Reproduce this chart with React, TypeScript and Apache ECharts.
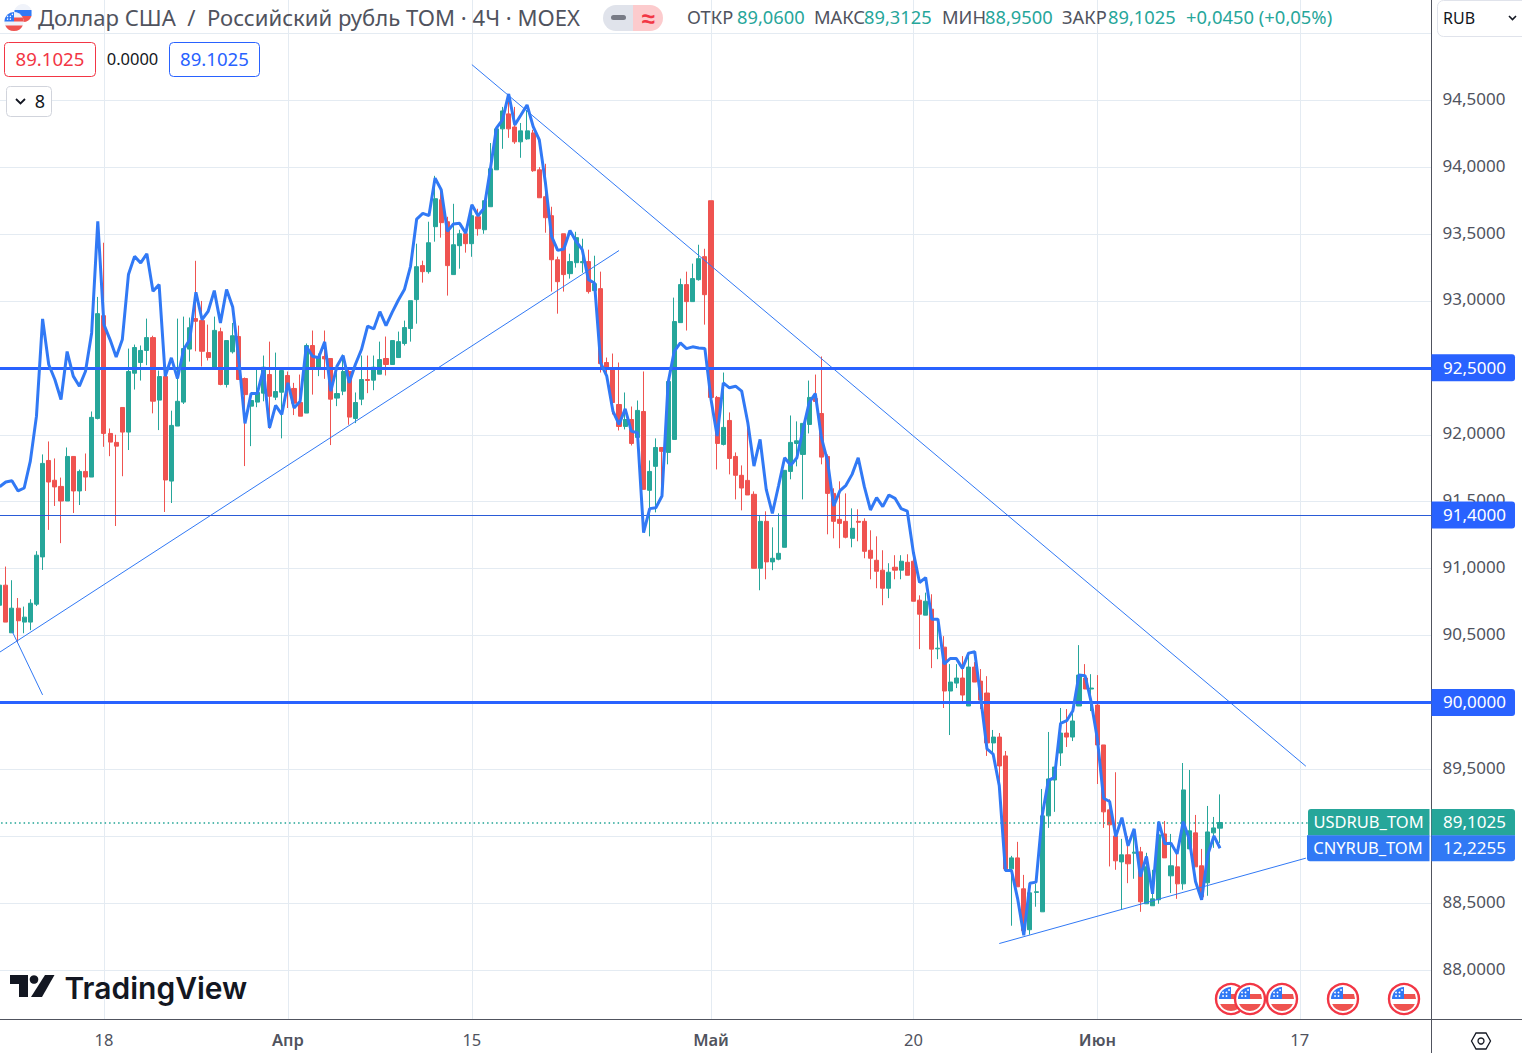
import React, { useEffect, useRef } from "react";
import * as echarts from "echarts";

const opens = [
  90.726,90.876,90.52,90.704,90.60,90.60,90.734,91.087,91.808,91.66,
  91.614,91.505,91.838,91.58,91.726,91.684,92.122,92.89,92.01,91.943,
  92.204,92.02,92.46,92.54,92.63,92.726,92.259,92.435,91.654,92.065,
  92.244,92.64,92.868,92.853,92.614,92.49,92.77,92.376,92.62,92.734,
  92.42,92.214,92.244,92.311,92.45,92.281,92.318,92.443,92.346,92.241,
  92.162,92.667,92.495,92.585,92.57,92.274,92.326,92.473,92.122,92.266,
  92.413,92.408,92.453,92.57,92.525,92.577,92.682,92.794,93.01,93.264,
  93.219,93.555,93.756,93.592,93.197,93.413,93.502,93.428,93.629,93.532,
  93.704,93.98,94.286,94.398,94.30,94.189,94.211,94.256,93.98,93.779,
  93.637,93.308,93.502,93.204,93.286,93.286,93.294,93.077,93.092,92.54,
  92.502,92.226,92.062,92.114,91.98,92.174,91.585,91.764,91.905,91.868,
  91.965,92.838,93.122,92.995,93.159,93.331,93.749,92.279,91.928,92.107,
  91.838,91.697,91.659,91.555,91.002,91.353,91.05,91.07,91.159,91.726,
  91.935,91.853,92.077,92.271,92.159,91.838,91.562,91.368,91.353,91.226,
  91.353,91.353,91.137,91.062,90.988,90.853,91.01,90.988,91.047,91.055,
  90.764,90.652,90.697,90.40,90.413,90.085,90.144,90.182,89.973,90.264,
  90.159,90.07,89.697,89.741,89.6,88.756,88.838,88.607,88.301,88.58,
  88.435,89.152,89.42,89.622,89.771,89.741,89.973,90.182,90.10,89.98,
  89.682,89.197,89.002,88.808,88.861,88.873,88.883,88.495,88.48,88.525,
  89.017,88.704,88.771,88.644,88.905,89.025,88.779,88.652,89.025,89.06,
];
const closes = [
  90.876,90.60,90.704,90.61,90.637,90.741,91.10,91.786,91.647,91.61,
  91.505,91.838,91.58,91.726,91.684,92.13,92.905,92.01,91.945,91.915,
  92.02,92.473,92.652,92.63,92.726,92.251,92.435,91.662,92.07,92.25,
  92.644,92.80,92.848,92.624,92.577,92.78,92.376,92.704,92.74,92.413,
  92.30,92.256,92.316,92.505,92.288,92.323,92.48,92.341,92.236,92.139,
  92.667,92.495,92.585,92.567,92.266,92.308,92.473,92.132,92.241,92.413,
  92.406,92.505,92.562,92.525,92.704,92.696,92.801,93.002,93.256,93.219,
  93.435,93.764,93.585,93.264,93.42,93.502,93.428,93.637,93.54,93.749,
  93.988,94.286,94.42,94.286,94.189,94.271,94.271,93.973,93.771,93.622,
  93.308,93.144,93.197,93.294,93.473,93.294,93.07,93.129,92.532,92.488,
  92.241,92.062,92.114,91.935,92.182,91.592,91.726,91.905,91.876,92.398,
  92.846,93.122,92.995,93.167,93.316,93.047,92.279,91.935,92.055,91.823,
  91.697,91.602,91.55,91.002,91.353,91.05,91.077,91.114,91.734,91.943,
  91.955,92.085,92.279,92.249,91.833,91.562,91.353,91.338,91.234,91.301,
  91.346,91.129,91.077,90.98,90.853,90.973,90.988,91.055,90.95,90.756,
  90.659,90.756,90.398,90.405,90.085,90.152,90.182,90.055,90.264,90.152,
  90.017,89.697,89.741,89.525,88.756,88.838,88.622,88.294,88.577,88.585,
  89.152,89.428,89.517,89.771,89.741,89.861,90.204,90.10,90.107,89.682,
  89.182,89.085,88.816,88.861,88.794,88.881,88.51,88.771,88.532,89.01,
  88.838,88.779,88.644,89.346,89.04,88.771,88.547,89.032,89.062,89.1025,
];
const lows = [
  90.71,90.60,90.52,90.448,90.517,90.54,90.72,90.99,91.289,91.468,
  91.19,91.505,91.415,91.475,91.58,91.684,92.115,91.91,91.84,91.318,
  91.69,91.886,92.338,92.405,92.52,92.16,92.035,91.423,91.49,92.065,
  92.23,92.547,92.624,92.51,92.555,92.49,92.37,92.353,92.607,92.413,
  91.766,91.915,92.206,92.25,92.045,92.259,91.973,92.2,92.147,92.139,
  92.162,92.30,92.438,92.418,91.923,92.214,92.296,92.075,92.087,92.221,
  92.311,92.333,92.453,92.443,92.525,92.577,92.667,92.696,92.83,93.137,
  93.204,93.443,93.473,93.04,93.197,93.241,93.361,93.33,93.488,93.502,
  93.704,93.98,94.137,94.219,94.174,94.07,94.204,93.965,93.771,93.51,
  93.07,92.905,93.07,93.167,93.249,93.211,93.055,93.077,92.465,92.41,
  92.152,92.032,92.04,91.92,91.898,91.592,91.241,91.42,91.614,91.779,
  91.965,92.838,92.779,92.995,93.152,92.823,92.249,91.741,91.92,91.704,
  91.517,91.435,91.55,91.002,90.838,90.92,90.988,91.062,91.159,91.667,
  91.764,91.517,92.01,92.249,91.779,91.256,91.226,91.152,91.226,91.159,
  91.204,91.077,90.92,90.853,90.726,90.779,90.92,90.92,90.95,90.756,
  90.398,90.652,90.256,90.323,89.958,89.756,90.107,89.988,89.973,90.152,
  89.95,89.6,89.627,89.279,88.756,88.331,88.622,88.294,88.264,88.473,
  88.435,89.062,89.182,89.525,89.667,89.711,89.973,90.10,89.935,89.39,
  89.062,88.774,88.749,88.455,88.649,88.682,88.435,88.495,88.48,88.495,
  88.838,88.575,88.532,88.6,88.905,88.771,88.537,88.555,88.913,88.95,
];
const highs = [
  90.89,91.015,90.913,90.78,90.716,90.771,91.13,91.853,91.95,91.823,
  91.68,91.905,91.84,91.74,91.86,92.174,93.03,93.435,92.047,92.0,
  92.204,92.644,92.674,92.667,92.868,92.74,92.48,92.435,92.18,92.868,
  92.883,92.876,93.30,93.0,92.823,92.883,92.80,92.704,92.836,92.816,
  92.428,92.256,92.488,92.592,92.696,92.614,92.5,92.473,92.388,92.45,
  92.682,92.779,92.607,92.779,92.57,92.488,92.6,92.488,92.316,92.592,
  92.592,92.592,92.696,92.734,92.704,92.771,92.853,93.002,93.428,93.301,
  93.592,93.935,93.838,93.629,93.726,93.532,93.502,93.72,93.689,93.749,
  94.18,94.286,94.45,94.54,94.45,94.33,94.428,94.279,94.0,94.025,
  93.704,93.331,93.502,93.353,93.517,93.465,93.383,93.338,93.219,92.577,
  92.607,92.54,92.316,92.211,92.256,92.473,91.808,91.973,91.905,92.398,
  93.025,93.167,93.219,93.279,93.42,93.39,93.749,92.29,92.465,92.167,
  91.868,91.771,92.092,91.577,91.398,91.428,91.308,91.413,91.734,92.144,
  92.1,92.085,92.405,92.45,92.585,91.853,91.6,91.652,91.562,91.45,
  91.443,91.376,91.286,91.241,91.137,91.04,91.1,91.1,91.107,91.159,
  90.80,90.82,90.808,90.62,90.495,90.286,90.286,90.346,90.373,90.301,
  90.249,90.196,89.794,89.771,89.637,88.853,88.958,88.711,88.577,88.644,
  89.353,89.779,89.517,89.958,89.95,89.965,90.428,90.286,90.211,90.204,
  89.682,89.276,89.478,88.98,89.0,89.047,88.92,88.876,88.749,89.112,
  89.114,89.017,88.89,89.547,89.495,89.159,88.905,89.226,89.144,89.3125,
];
const cnyOverlay = [
  91.612,91.647,91.657,91.58,91.602,91.803,92.139,92.866,92.525,92.413,
  92.264,92.622,92.438,92.363,92.475,92.761,93.595,92.823,92.711,92.582,
  92.711,93.197,93.333,93.284,93.353,93.072,93.122,92.438,92.575,92.42,
  92.637,92.711,93.065,92.861,92.923,93.077,92.836,93.085,92.955,92.562,
  92.085,92.308,92.308,92.488,92.052,92.219,92.152,92.388,92.2,92.251,
  92.662,92.587,92.575,92.694,92.326,92.512,92.592,92.388,92.525,92.637,
  92.811,92.791,92.92,92.816,92.915,93.005,93.085,93.259,93.612,93.654,
  93.637,93.918,93.831,93.52,93.575,93.58,93.507,93.719,93.637,93.694,
  93.98,94.291,94.353,94.547,94.316,94.39,94.465,94.303,94.204,93.881,
  93.483,93.378,93.388,93.527,93.445,93.383,93.159,93.134,92.537,92.438,
  92.177,92.077,92.194,92.027,92.015,91.269,91.448,91.455,91.542,92.388,
  92.624,92.687,92.644,92.657,92.649,92.644,92.264,91.99,92.388,92.351,
  92.363,92.326,92.09,91.766,91.965,91.592,91.413,91.617,91.828,91.771,
  91.828,92.04,92.239,92.308,91.978,91.803,91.468,91.58,91.622,91.704,
  91.828,91.612,91.438,91.53,91.463,91.55,91.525,91.448,91.43,91.119,
  90.896,90.933,90.622,90.622,90.286,90.328,90.328,90.254,90.368,90.378,
  90.025,89.652,89.614,89.378,88.744,88.744,88.532,88.259,88.649,88.657,
  89.154,89.415,89.44,89.843,89.863,89.938,90.204,90.199,90.0,89.726,
  89.284,89.259,88.998,89.139,88.928,89.055,88.699,88.848,88.57,89.109,
  88.943,88.948,88.868,89.109,88.973,88.662,88.525,88.861,89.002,88.91,
];

const barCount = 234;
const tickIndexes = [17, 47, 77, 116, 149, 179, 212];
const tickLabels = ["18", "Апр", "15", "Май", "20", "Июн", "17"];
const monthLabels = ["Апр", "Май", "Июн"];
const priceTicks = [88, 88.5, 89, 89.5, 90, 90.5, 91, 91.5, 92, 92.5, 93, 93.5, 94, 94.5, 95];
const labelledTicks = [88, 88.5, 89.5, 90.5, 91, 91.5, 92, 93, 93.5, 94, 94.5];
const levelsThick = [92.5, 90];
const levelThin = 91.4;
const lastClose = 89.1025;
const lastCny = 88.91;

const trendRising = [[0, 90.375], [101, 93.377]];
const trendShort = [[2, 90.535], [7, 90.056]];
const trendFalling = [[77, 94.766], [213, 89.523]];
const trendBottom = [[163, 88.198], [213, 88.836]];

const FONT = '"Noto Sans", sans-serif';
const GREY = "#50535e";
const TEAL = "#26a69a";
const RED = "#ef5350";
const BLUE = "#2962ff";
const LINE = "#3179f5";
const FLAG_X = [1231, 1250, 1282, 1343, 1404];

const fmt = (v: number) => v.toFixed(4).replace(".", ",");

echarts.graphic.registerShape("flagBlue", echarts.graphic.extendPath("M-12,0 A12,12 0 0 1 0,-12 L0,0 Z", {}));
echarts.graphic.registerShape("flagStripe", echarts.graphic.extendPath("M0,-5 L11,-5 L12,0 L0,0 Z", {}));
echarts.graphic.registerShape("flagBottom", echarts.graphic.extendPath("M-10.9,5 A12,12 0 0 0 10.9,5 Z", {}));
echarts.graphic.registerShape("ruBottom", echarts.graphic.extendPath("M-8.5,3 A9,9 0 0 0 8.5,3 Z", {}));

const flag = (cx: number, cy: number, scale: number, ring: boolean, fill = "#ffffff") => {
  const s = scale;
  const kids: any[] = [
    { type: "circle", z: 100, shape: { cx: 0, cy: 0, r: ring ? 15 : 12 },
      style: { fill, stroke: ring ? "#f23645" : "none", lineWidth: ring ? 2.4 : 0 } },
    { type: "flagBlue", z: 100, style: { fill: "#3179f5" } },
    { type: "flagStripe", z: 100, style: { fill: RED } },
    { type: "flagBottom", z: 100, style: { fill: RED } },
  ];
  [[-8, -3], [-4.5, -3], [-8, -6.5], [-4.5, -6.5], [-2, -9]].forEach(([x, y]) =>
    kids.push({ type: "circle", z: 100, shape: { cx: x, cy: y, r: 0.9 }, style: { fill: "#ffffff" } })
  );
  return { type: "group", x: cx, y: cy, scaleX: s, scaleY: s, children: kids };
};

const txt = (x: number, y: number, text: string, size: number, fill: string, align = "left", weight: any = 400, family = FONT) => ({
  type: "text", x, y, z: 102,
  style: { text, fontSize: size, fontFamily: family, fill, align, verticalAlign: "middle", fontWeight: weight },
});

const badge = (x: number, y: number, w: number, h: number, fill: string, r: any) => ({
  type: "rect", z: 101, shape: { x, y, width: w, height: h, r }, style: { fill },
});

const outlineBox = (x: number, y: number, w: number, h: number, stroke: string) => ({
  type: "rect", z: 100, shape: { x: x + 0.5, y: y + 0.5, width: w, height: h, r: 4 },
  style: { fill: "#ffffff", stroke, lineWidth: 1 },
});

const staticGraphics = (): any[] => [
  // header
  { type: "circle", z: 99, shape: { cx: 23, cy: 13, r: 9 }, style: { fill: "#f0f3fa" } },
  { type: "rect", z: 99, shape: { x: 14.5, y: 10, width: 17, height: 6 }, style: { fill: "#3179f5" } },
  { type: "ruBottom", z: 99, x: 23, y: 13, style: { fill: RED } },
  flag(14, 21.5, 0.8, false, "#f0f3fa"),
  txt(38, 17, "Доллар США  /  Российский рубль TOM · 4Ч · MOEX", 22.1, GREY),
  { type: "rect", z: 100, shape: { x: 603, y: 5, width: 30, height: 26, r: [13, 0, 0, 13] }, style: { fill: "#e0e3eb" } },
  { type: "rect", z: 100, shape: { x: 633, y: 5, width: 30, height: 26, r: [0, 13, 13, 0] }, style: { fill: "#fccbcd" } },
  { type: "rect", z: 101, shape: { x: 611, y: 15, width: 15, height: 5, r: 2.5 }, style: { fill: "#787b86" } },
  txt(648, 17, "≈", 24, "#f23645", "center", 700),
  txt(687, 16.5, "ОТКР", 18.3, GREY),
  txt(737, 16.5, "89,0600", 18.3, TEAL),
  txt(814, 16.5, "МАКС", 18.3, GREY),
  txt(864, 16.5, "89,3125", 18.3, TEAL),
  txt(942, 16.5, "МИН", 18.3, GREY),
  txt(985, 16.5, "88,9500", 18.3, TEAL),
  txt(1062, 16.5, "ЗАКР", 18.3, GREY),
  txt(1108, 16.5, "89,1025", 18.3, TEAL),
  txt(1186, 16.5, "+0,0450 (+0,05%)", 18.4, TEAL),
  // RUB select
  { type: "rect", z: 100, shape: { x: 1437.5, y: 0.5, width: 95, height: 36, r: 6 }, style: { fill: "#ffffff", stroke: "#e0e3eb" } },
  txt(1443, 17.5, "RUB", 16, "#131722"),
  { type: "polyline", z: 102, shape: { points: [[1509, 16], [1512.5, 19.5], [1516, 16]] }, style: { stroke: "#131722", lineWidth: 1.6, fill: "none" } },
  // value chips
  outlineBox(4, 42, 91, 34, "#f23645"),
  txt(50, 58.5, "89.1025", 18.6, "#f23645", "center"),
  txt(132.5, 58.5, "0.0000", 16.5, "#131722", "center"),
  outlineBox(169, 42, 90, 34, BLUE),
  txt(214.5, 58.5, "89.1025", 18.6, BLUE, "center"),
  outlineBox(6, 86, 45, 30, "#d1d4dc"),
  { type: "polyline", z: 102, shape: { points: [[16, 99], [20.5, 103.5], [25, 99]] }, style: { stroke: "#131722", lineWidth: 1.8, fill: "none" } },
  txt(40, 101, "8", 18, "#131722", "center"),
  // logo
  { type: "polygon", z: 100, shape: { points: [[10, 975], [28, 975], [28, 997], [19, 997], [19, 984], [10, 984]] }, style: { fill: "#131722" } },
  { type: "circle", z: 100, shape: { cx: 34, cy: 979.5, r: 4.3 }, style: { fill: "#131722" } },
  { type: "polygon", z: 100, shape: { points: [[45, 975], [54.5, 975], [42, 997], [31, 997]] }, style: { fill: "#131722" } },
  txt(64.5, 987.5, "TradingView", 30, "#131722", "left", 600, 'Inter, sans-serif'),
  // flags
  ...FLAG_X.map((x) => flag(x, 999, 1, true)),
  // frame
  { type: "line", z: 90, shape: { x1: 1431.5, y1: 1019, x2: 1431.5, y2: 1053 }, style: { stroke: GREY, lineWidth: 1 } },
  { type: "line", z: 90, shape: { x1: 1431, y1: 1019.5, x2: 1522, y2: 1019.5 }, style: { stroke: GREY, lineWidth: 1 } },
  { type: "polygon", z: 100, shape: { points: [[1471.5, 1041], [1476, 1033], [1486, 1033], [1490.5, 1041], [1486, 1049], [1476, 1049]] }, style: { fill: "#ffffff", stroke: "#131722", lineWidth: 1.3 } },
  { type: "circle", z: 101, shape: { cx: 1481, cy: 1041, r: 3 }, style: { fill: "#ffffff", stroke: "#131722", lineWidth: 1.3 } },
];

const priceBadges = (py: (v: number) => number): any[] => {
  const out: any[] = [];
  [...levelsThick, levelThin].forEach((v) => {
    const y = py(v);
    out.push(badge(1431.5, y - 13.5, 83.5, 27, BLUE, [0, 3, 3, 0]));
    out.push(txt(1474.5, y - 0.8, fmt(v), 17, "#ffffff", "center"));
  });
  const yU = py(lastClose);
  const yC = py(lastCny);
  out.push(badge(1308, yU - 13.5, 121.5, 26.5, TEAL, [3, 0, 0, 0]));
  out.push(badge(1431.5, yU - 13.5, 83.5, 26.5, TEAL, [0, 3, 0, 0]));
  out.push(badge(1307, yC - 13, 122.5, 26, LINE, [0, 0, 0, 3]));
  out.push(badge(1431.5, yC - 13, 83.5, 26, LINE, [0, 0, 3, 0]));
  out.push(txt(1368.5, yU - 1, "USDRUB_TOM", 16.5, "#ffffff", "center"));
  out.push(txt(1474.5, yU - 1, fmt(lastClose), 17, "#ffffff", "center"));
  out.push(txt(1368, yC - 1, "CNYRUB_TOM", 16.5, "#ffffff", "center"));
  out.push(txt(1474.5, yC - 1, "12,2255", 17, "#ffffff", "center"));
  return out;
};

const trend = (name: string, data: number[][]) => ({
  name, type: "line", data, showSymbol: false, symbol: "none", silent: true, z: 4,
  lineStyle: { color: LINE, width: 1 },
});

export default function App() {
  const ref = useRef<HTMLDivElement>(null);
  useEffect(() => {
    document.body.style.margin = "0";
    const chart = echarts.init(ref.current!, undefined, { renderer: "svg" });
    const categories = Array.from({ length: barCount }, (_, i) => String(i));
    const isTick = (i: number) => tickIndexes.includes(i);
    chart.setOption({
      animation: false,
      backgroundColor: "#ffffff",
      grid: { left: -3.4, top: 0, width: 1435, height: 1019, containLabel: false, outerBoundsMode: "none" },
      xAxis: {
        type: "category",
        data: categories,
        axisLine: { show: true, onZero: false, lineStyle: { color: GREY, width: 1 } },
        axisTick: { show: false },
        splitLine: { show: true, interval: (i: number) => isTick(i), alignWithLabel: true, lineStyle: { color: "#e4ebf2", width: 1 } },
        axisLabel: {
          interval: (i: number) => isTick(i),
          margin: 12,
          fontSize: 16.5,
          fontFamily: FONT,
          color: GREY,
          formatter: (_: string, i: number) => {
            const t = tickLabels[tickIndexes.indexOf(i)] ?? "";
            return monthLabels.includes(t) ? `{b|${t}}` : t;
          },
          rich: { b: { fontWeight: 600, fontSize: 16.5, fontFamily: FONT, color: GREY } },
        },
      },
      yAxis: {
        type: "value",
        position: "right",
        min: 87.634,
        max: 95.249,
        scale: true,
        axisLine: { show: true, onZero: false, lineStyle: { color: GREY, width: 1 } },
        axisTick: { show: false, customValues: priceTicks },
        splitLine: { show: true, lineStyle: { color: "#e4ebf2", width: 1 } },
        axisLabel: {
          customValues: labelledTicks,
          inside: false,
          margin: 11,
          fontSize: 17,
          fontFamily: FONT,
          color: GREY,
          formatter: (v: number) => `{v|${fmt(v)}}`,
          rich: { v: { fontSize: 17, fontFamily: FONT, color: GREY, padding: [0, 0, 4, 0] } },
        },
      },
      series: [
        {
          name: "USDRUB_TOM",
          type: "candlestick",
          data: opens.map((o, i) => [o, closes[i], lows[i], highs[i]]),
          barWidth: 4.6,
          z: 2,
          itemStyle: { color: TEAL, color0: RED, borderColor: TEAL, borderColor0: RED, borderWidth: 1 },
          markLine: {
            silent: true,
            symbol: "none",
            animation: false,
            label: { show: false },
            data: [
              ...levelsThick.map((v) => ({ yAxis: v, lineStyle: { color: BLUE, width: 3, type: "solid" } })),
              { yAxis: levelThin, lineStyle: { color: "#2a5bd7", width: 1, type: "solid" } },
              { yAxis: lastClose, lineStyle: { color: "#1fa394", width: 1.5, type: [1.5, 3] } },
            ],
          },
        },
        {
          name: "CNYRUB_TOM",
          type: "line",
          data: cnyOverlay,
          showSymbol: false,
          symbol: "none",
          z: 5,
          lineStyle: { color: LINE, width: 3 },
        },
        trend("trendRising", trendRising),
        trend("trendShort", trendShort),
        trend("trendFalling", trendFalling),
        trend("trendBottom", trendBottom),
      ],
    });
    const py = (v: number) => chart.convertToPixel({ yAxisIndex: 0 }, v) as number;
    chart.setOption({ graphic: { elements: [...staticGraphics(), ...priceBadges(py)] } });
    return () => chart.dispose();
  }, []);
  return <div ref={ref} style={{ width: 1522, height: 1053 }} />;
}
